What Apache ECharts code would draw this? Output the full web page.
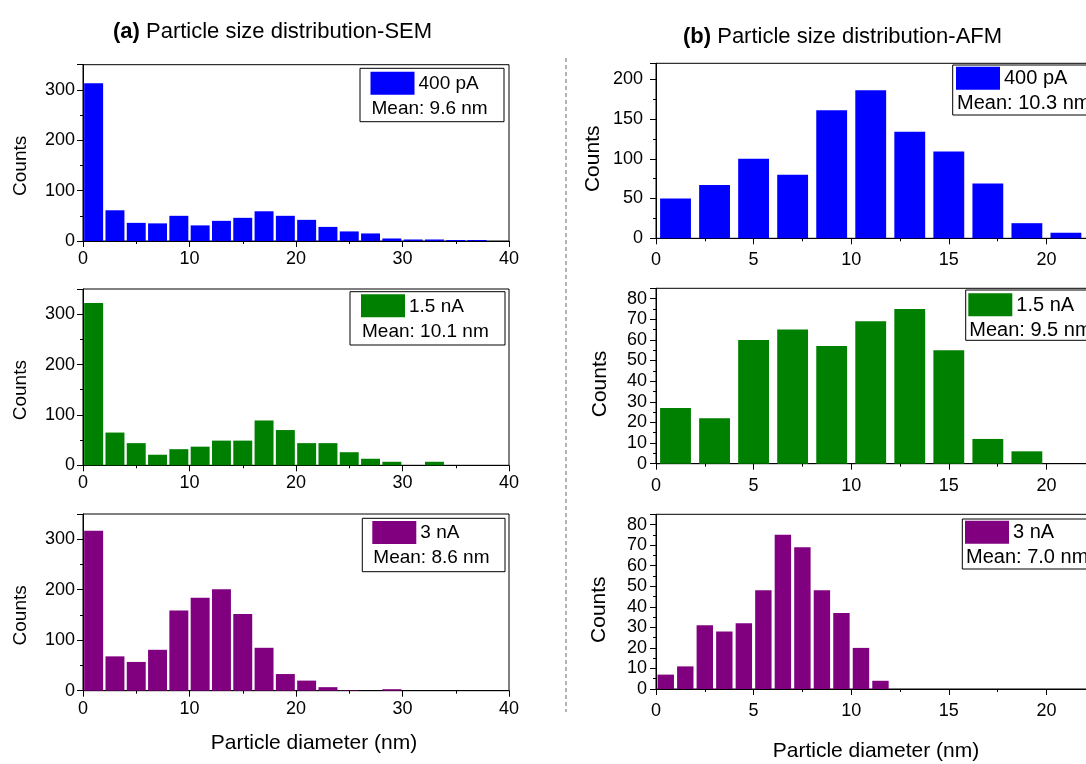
<!DOCTYPE html>
<html>
<head>
<meta charset="utf-8">
<script src="https://cdn.jsdelivr.net/npm/echarts@6/dist/echarts.min.js"></script>
<style>
  html, body { margin: 0; padding: 0; background: #fff; }
  #chart { width: 1086px; height: 764px; }
</style>
</head>
<body>
<div id="chart"></div>
<script>
// counts per bin
const semBinWidth = 2;
const sem400pA = [313, 61, 36, 35, 50, 31, 40, 46, 59, 50, 42, 28, 19, 15, 5, 3, 3, 2, 2];
const sem1p5nA = [322, 65, 44, 21, 32, 37, 49, 49, 89, 70, 44, 44, 26, 13, 7, 0, 7];
const sem3nA = [317, 68, 57, 81, 159, 184, 201, 152, 85, 33, 20, 7, 1, 0, 3];

const afmBinWidths = [2, 2, 1];
const afm400pA = [50, 67, 100, 80, 161, 186, 134, 109, 69, 19, 7];
const afm1p5nA = [27, 22, 60, 65, 57, 69, 75, 55, 12, 6];
const afm3nA = [7, 11, 31, 28, 32, 48, 75, 69, 48, 37, 20, 4];

const seriesNames = ['400 pA', '1.5 nA', '3 nA'];
const semMeans = ['Mean: 9.6 nm', 'Mean: 10.1 nm', 'Mean: 8.6 nm'];
const afmMeans = ['Mean: 10.3 nm', 'Mean: 9.5 nm', 'Mean: 7.0 nm'];
const colors = ['#0000FF', '#008000', '#800080'];

const FONT = '"Liberation Sans", Arial, sans-serif';

// panel layout
const panels = [
  { counts: sem400pA, bw: semBinWidth, c: 0, mean: semMeans[0], grid: { left: 83, top: 64.7, width: 426, height: 176.3 },
    x: [0, 40, 10], y: [0, 350, 100], frac: 0.89, lab: 18, labM: 9, ylabM: 8, nameSize: 19, nameGap: 53, nameShift: 26,
    legend: [360, 68.3, 144, 53.4, 10.5, 3.4, 19] },
  { counts: sem1p5nA, bw: semBinWidth, c: 1, mean: semMeans[1], grid: { left: 83, top: 289, width: 426, height: 176.3 },
    x: [0, 40, 10], y: [0, 350, 100], frac: 0.89, lab: 18, labM: 9, ylabM: 8, nameSize: 19, nameGap: 53, nameShift: 26,
    legend: [350, 291.7, 155, 53.3, 11, 2.6, 19] },
  { counts: sem3nA, bw: semBinWidth, c: 2, mean: semMeans[2], grid: { left: 83, top: 514, width: 426, height: 176.7 },
    x: [0, 40, 10], y: [0, 350, 100], frac: 0.89, lab: 18, labM: 9, ylabM: 8, nameSize: 19, nameGap: 53, nameShift: 26,
    legend: [362.3, 518.3, 142.7, 53.4, 10, 2.7, 19],
    xName: { gap: 42, pad: [0, 0, 0, 36] } },
  { counts: afm400pA, bw: afmBinWidths[0], c: 0, mean: afmMeans[0], grid: { left: 656, top: 63.3, width: 488, height: 175 },
    x: [0, 25, 5], y: [0, 220, 50], frac: 0.79, lab: 18, labM: 13, ylabM: 13, nameSize: 21, nameGap: 52, nameShift: 16,
    legend: [952.7, 65, 160, 50, 3.3, 1.7, 20] },
  { counts: afm1p5nA, bw: afmBinWidths[1], c: 1, mean: afmMeans[1], grid: { left: 656, top: 288.3, width: 488, height: 175.4 },
    x: [0, 25, 5], y: [0, 85, 10], frac: 0.79, lab: 18, labM: 13, ylabM: 9, nameSize: 21, nameGap: 45, nameShift: 16,
    legend: [965.7, 290, 160, 50.3, 2.6, 3.3, 20] },
  { counts: afm3nA, bw: afmBinWidths[2], c: 2, mean: afmMeans[2], grid: { left: 656, top: 514.3, width: 488, height: 174.7 },
    x: [0, 25, 5], y: [0, 85, 10], frac: 0.84, lab: 18, labM: 13, ylabM: 9, nameSize: 21, nameGap: 46, nameShift: 16,
    legend: [962.3, 519, 160, 50, 2.7, 1.7, 20],
    xName: { gap: 52, pad: [0, 48, 0, 0] } }
];

var grids = [], xAxes = [], yAxes = [], series = [], graphics = [];

panels.forEach(function (p, i) {
  grids.push(Object.assign({ show: true, borderColor: '#000', borderWidth: 1, backgroundColor: 'transparent',
    containLabel: false, outerBoundsMode: 'none' }, p.grid));

  var tick = { show: true, length: 6, lineStyle: { color: '#000', width: 1 } };
  var minor = { show: true, splitNumber: 2, length: 3, lineStyle: { color: '#000', width: 1 } };

  var xa = {
    type: 'value', gridIndex: i, min: p.x[0], max: p.x[1], interval: p.x[2],
    axisLine: { show: true, onZero: false, lineStyle: { color: '#000', width: 1 } },
    axisTick: tick, minorTick: minor,
    splitLine: { show: false },
    axisLabel: { color: '#000', fontSize: p.lab, fontFamily: FONT, margin: p.labM, showMaxLabel: p.x[1] === 40 }
  };
  if (p.xName) {
    xa.name = 'Particle diameter (nm)';
    xa.nameLocation = 'middle';
    xa.nameGap = p.xName.gap;
    xa.nameTextStyle = { color: '#000', fontSize: 21, fontFamily: FONT, padding: p.xName.pad };
  }
  xAxes.push(xa);

  yAxes.push({
    type: 'value', gridIndex: i, min: p.y[0], max: p.y[1], interval: p.y[2],
    name: 'Counts', nameLocation: 'middle', nameGap: p.nameGap,
    nameTextStyle: { color: '#000', fontSize: p.nameSize, fontFamily: FONT, padding: [0, p.nameShift, 0, 0] },
    axisLine: { show: true, onZero: false, lineStyle: { color: '#000', width: 1 } },
    axisTick: tick, minorTick: minor,
    splitLine: { show: false },
    axisLabel: { color: '#000', fontSize: p.lab, fontFamily: FONT, margin: p.ylabM, showMaxLabel: false }
  });

  var data = p.counts.map(function (v, k) { return [k * p.bw, (k + 1) * p.bw, v]; });
  series.push({
    type: 'custom', name: seriesNames[p.c], xAxisIndex: i, yAxisIndex: i,
    itemStyle: { color: colors[p.c] },
    encode: { x: [0, 1], y: 2 },
    data: data,
    renderItem: function (params, api) {
      var a = api.coord([api.value(0), api.value(2)]);
      var b = api.coord([api.value(1), 0]);
      var w = b[0] - a[0];
      var inset = w * (1 - p.frac) / 2;
      return {
        type: 'rect',
        shape: { x: a[0] + inset, y: a[1], width: w - 2 * inset, height: b[1] - a[1] },
        style: api.style()
      };
    }
  });

  // legend box: [x, y, w, h, swatch dx, swatch dy, font]
  var L = p.legend;
  graphics.push({
    type: 'group', x: L[0], y: L[1], z: 100,
    children: [
      { type: 'rect', shape: { x: 0, y: 0, width: L[2], height: L[3] }, style: { fill: '#fff', stroke: '#000', lineWidth: 1 } },
      { type: 'rect', shape: { x: L[4], y: L[5], width: 44, height: 23 }, style: { fill: colors[p.c] } },
      { type: 'text', x: L[4] + 48, y: L[5] + 12, style: { text: seriesNames[p.c], fill: '#000', font: L[6] + 'px ' + FONT, textVerticalAlign: 'middle' } },
      { type: 'text', x: L[4] + 1, y: L[5] + 37, style: { text: p.mean, fill: '#000', font: L[6] + 'px ' + FONT, textVerticalAlign: 'middle' } }
    ]
  });
});

// dashed separator between (a) and (b)
graphics.push({
  type: 'line', shape: { x1: 566, y1: 58, x2: 566, y2: 712 },
  style: { stroke: '#9a9a9a', lineWidth: 1.5, lineDash: [4, 3] }
});

var titleStyle = { color: '#000', fontSize: 22, fontWeight: 'normal', fontFamily: FONT,
  rich: { b: { fontWeight: 'bold', fontSize: 22, fontFamily: FONT, color: '#000' } } };

var option = {
  animation: false,
  backgroundColor: '#fff',
  title: [
    { text: '{b|(a)} Particle size distribution-SEM', left: 108, top: 16, textStyle: titleStyle },
    { text: '{b|(b)} Particle size distribution-AFM', left: 678, top: 21, textStyle: titleStyle }
  ],
  grid: grids,
  xAxis: xAxes,
  yAxis: yAxes,
  series: series,
  graphic: graphics
};

var myChart = echarts.init(document.getElementById('chart'));
myChart.setOption(option);
</script>
</body>
</html>
